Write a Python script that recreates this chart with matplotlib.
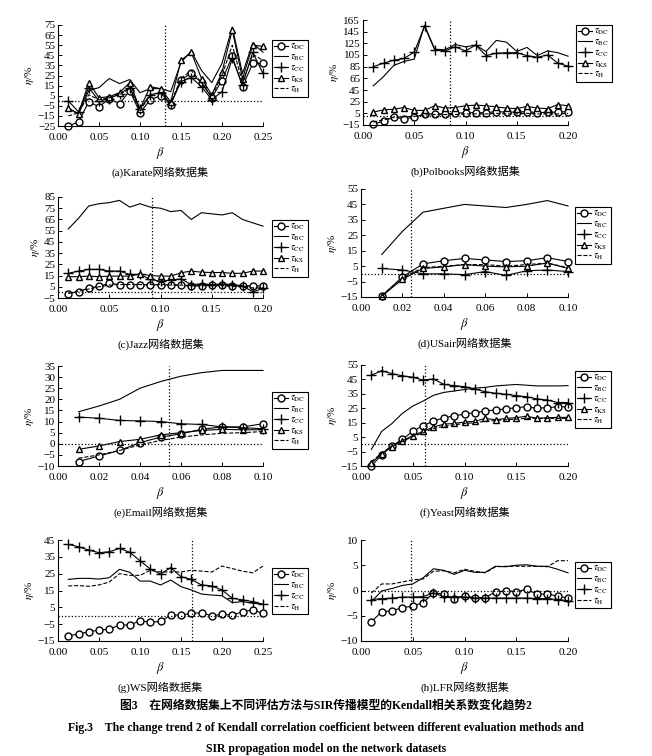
import numpy as np
import matplotlib
matplotlib.use("Agg")
import matplotlib.pyplot as plt

plt.rcParams['font.family'] = ['Liberation Serif', 'Noto Sans CJK SC', 'DejaVu Sans']
plt.rcParams['mathtext.fontset'] = 'stix'
plt.rcParams['axes.linewidth'] = 0.8

W, H = 652, 756

# ---- data ----
x_a = [0.0125 * i for i in range(1, 21)]
a_dc = [-25, -21, -1, -6, 2, -3, 10, -12, 1, 5, -4, 21, 27, 18, 3, 20, 44, 14, 37, 37]
a_bc = [-8, -13, 10, 13, 22, 17, 21, 8, 12, 12, 9, 38, 49, 30, 18, 37, 73, 27, 57, 48]
a_cc = [0, -11, 13, 0, 2, 7, 13, -8, 6, 8, -3, 19, 23, 14, 1, 9, 42, 16, 48, 27]
a_ks = [-7, -13, 18, 3, 4, 8, 18, -8, 14, 12, -1, 40, 48, 22, 6, 28, 70, 22, 55, 54]
a_h = [-15, -12, 6, 1, 3, 6, 12, -10, 6, 8, -2, 22, 30, 18, 4, 25, 55, 18, 46, 40]

x_b = [0.01 * i for i in range(1, 21)]
b_dc = [-14, -8, -2, -4, -2, 4, 4, 4, 5, 6, 6, 6, 8, 7, 7, 8, 6, 7, 7, 8]
b_bc = [52, 68, 87, 94, 98, 156, 115, 114, 123, 119, 122, 111, 130, 127, 111, 118, 104, 112, 109, 103]
b_cc = [85, 91, 96, 99, 110, 154, 114, 112, 119, 112, 122, 104, 108, 109, 109, 104, 101, 105, 91, 86]
b_ks = [7, 11, 12, 15, 10, 10, 18, 14, 15, 18, 19, 18, 16, 14, 13, 17, 14, 13, 20, 18]
b_h = [-10, -6, -2, -1, 0, 2, 3, 3, 3, 4, 4, 4, 5, 4, 4, 5, 4, 4, 4, 5]

x_c = [0.01 * i for i in range(1, 21)]
c_dc = [-1, 0.5, 4, 5.5, 8, 7, 7, 7, 6.5, 7, 6.5, 6.5, 5.5, 6, 6.5, 6.5, 6, 5.5, 6, 5.5]
c_bc = [56.5, 66, 77, 79, 80, 82, 76, 79, 76, 75, 72, 73, 65, 71, 70, 69, 71, 65, 62, 59]
c_cc = [17, 19, 20.5, 20.5, 19, 19, 16, 16, 11.5, 10, 11, 12, 7, 7.5, 7, 7.5, 7, 6, 0.5, 3.5]
c_ks = [14, 14, 14.5, 14, 14.5, 14.5, 14.5, 16.5, 15, 14.5, 14.5, 17.5, 19, 18, 17.7, 17.7, 17, 17, 19, 19]
c_h = [-1, 1, 3, 5, 6.5, 7, 7, 7, 7, 7, 6.5, 6.5, 6, 6, 6, 6, 5.5, 5, 4, 4]

x_d = [0.01 * i for i in range(1, 11)]
d_dc = [-14.5, -2, 6.5, 8.5, 10, 9, 8, 8.5, 10.5, 8]
d_bc = [12.5, 27.5, 40, 42.5, 45, 44, 43, 45, 47.5, 44]
d_cc = [3.5, 2.5, 0, 0, -0.5, 1.5, -1, 2, 2.5, 1.5]
d_ks = [-14.5, -3.5, 3.5, 4.5, 6, 5, 4.5, 5, 7, 3.5]
d_h = [-14, -2.5, 4, 5, 6, 6, 5, 6, 7, 4]

x_e = [0.01 * i for i in range(1, 11)]
e_dc = [-8, -5.5, -3, 0.5, 3, 4.5, 6.5, 7.6, 7.6, 9]
e_bc = [14.4, 17, 20, 25, 28, 30.4, 32, 33, 33, 33]
e_cc = [12, 11.5, 10.5, 10.3, 10, 9, 8.7, 7.6, 7.2, 6.8]
e_ks = [-2.5, -1, 1, 2, 4, 5, 6, 6.5, 6.3, 6.3]
e_h = [-6.5, -5, -3, -0.5, 1.5, 3, 4, 4.7, 5, 5.5]

x_f = [0.01 * i for i in range(1, 21)]
f_dc = [-15, -7.3, -1, 3.5, 9, 13, 16, 18.5, 19.7, 21, 22, 23, 24, 24.5, 25.5, 26, 25, 25.5, 26, 26]
f_bc = [-3.5, 9, 14.5, 21.5, 26.5, 30, 34, 36, 37, 38, 39, 39.5, 40.5, 41, 41.5, 41, 40.5, 40.5, 40.5, 40.7]
f_cc = [48, 51, 49, 47.5, 46.5, 44.6, 45.3, 41.6, 40.7, 40, 38.4, 36.5, 35.4, 34.7, 33.8, 33, 31.5, 30.7, 29, 29]
f_ks = [-13, -6.5, -1.5, 2.5, 6, 9, 12, 14, 14.5, 15.5, 16, 18, 17, 18, 18.5, 19.5, 18, 18.5, 18.7, 18.7]
f_h = [-12, -6, -1, 2, 5.5, 8, 11, 12.5, 13.5, 14.5, 15, 16, 16.5, 17, 17.5, 18, 18, 18, 18, 18]

x_g = [0.0125 * i for i in range(1, 21)]
g_dc = [-12, -10.8, -9.5, -8.5, -8, -5.5, -5.5, -3, -3.8, -3.4, 0.4, 0.4, 1.4, 1.8, 0, 0.8, 0.4, 2.4, 3.4, 1.4]
g_bc = [21.6, 22.2, 22.2, 21.8, 22.6, 27.6, 25.8, 20.6, 20.6, 18.3, 21.2, 17.3, 15.3, 12.9, 12.3, 11.9, 7.8, 8.4, 7.4, 6.8]
g_cc = [42.4, 41, 39, 37.5, 38, 40, 37.7, 32.7, 27.8, 24.8, 28.6, 23.2, 21.6, 18.3, 17.7, 15.3, 10.4, 9.4, 8.4, 6.8]
g_h = [17.7, 17.9, 17.5, 18.3, 20, 25, 24, 24, 27, 26, 26, 26, 27, 26.5, 26, 29.5, 28, 26.5, 25.5, 29.5]

x_h = [0.01 * i for i in range(1, 21)]
h_dc = [-6.2, -4.2, -4, -3.4, -3.1, -2.4, -0.5, -0.7, -1.7, -1.1, -1.4, -1.4, -0.3, -0.1, -0.2, 0.2, -0.7, -0.7, -1.1, -1.5]
h_bc = [-2.2, -0.1, 0.4, 1, 1.3, 2.5, 4.3, 4, 3.2, 4, 3.6, 3.6, 4.8, 4.7, 5, 5.1, 4.8, 4.8, 4.2, 3.5]
h_cc = [-1.8, -1.6, -1.5, -1.3, -1.3, -1.2, -0.5, -1.2, -1.2, -1.3, -1.5, -1.5, -1.5, -1.5, -1.5, -1.5, -1.6, -1.6, -1.8, -2.0]
h_h = [-0.5, 1.3, 1.3, 1.7, 2.1, 2.3, 3.8, 3.9, 3.5, 4.2, 3.8, 3.5, 4.7, 4.8, 4.8, 4.8, 4.8, 4.7, 5.9, 5.9]

panels = [
    dict(x=x_a, s=dict(DC=a_dc, BC=a_bc, CC=a_cc, KS=a_ks, H=a_h), ylim=(-25, 75), ystep=10,
         xmax=0.25, xstep=0.05, bc=0.13, cap="(a)Karate网络数据集",
         box=(58, 263, 25, 126), leg=(272, 40)),
    dict(x=x_b, s=dict(DC=b_dc, BC=b_bc, CC=b_cc, KS=b_ks, H=b_h), ylim=(-15, 165), ystep=20,
         xmax=0.20, xstep=0.05, bc=0.085, cap="(b)Polbooks网络数据集",
         box=(363, 568, 20, 125), leg=(576, 25)),
    dict(x=x_c, s=dict(DC=c_dc, BC=c_bc, CC=c_cc, KS=c_ks, H=c_h), ylim=(-5, 85), ystep=10,
         xmax=0.20, xstep=0.05, bc=0.092, cap="(c)Jazz网络数据集",
         box=(58, 263, 197, 298), leg=(272, 220)),
    dict(x=x_d, s=dict(DC=d_dc, BC=d_bc, CC=d_cc, KS=d_ks, H=d_h), ylim=(-15, 55), ystep=10,
         xmax=0.10, xstep=0.02, bc=0.024, cap="(d)USair网络数据集",
         box=(361, 568, 189, 297), leg=(575, 207)),
    dict(x=x_e, s=dict(DC=e_dc, BC=e_bc, CC=e_cc, KS=e_ks, H=e_h), ylim=(-10, 35), ystep=5,
         xmax=0.10, xstep=0.02, bc=0.054, cap="(e)Email网络数据集",
         box=(58, 263, 366, 466), leg=(272, 392)),
    dict(x=x_f, s=dict(DC=f_dc, BC=f_bc, CC=f_cc, KS=f_ks, H=f_h), ylim=(-15, 55), ystep=10,
         xmax=0.20, xstep=0.05, bc=0.062, cap="(f)Yeast网络数据集",
         box=(361, 568, 365, 466), leg=(575, 371)),
    dict(x=x_g, s=dict(DC=g_dc, BC=g_bc, CC=g_cc, H=g_h), ylim=(-15, 45), ystep=10,
         xmax=0.25, xstep=0.05, bc=0.163, cap="(g)WS网络数据集",
         box=(58, 263, 540, 641), leg=(272, 568)),
    dict(x=x_h, s=dict(DC=h_dc, BC=h_bc, CC=h_cc, H=h_h), ylim=(-10, 10), ystep=5,
         xmax=0.20, xstep=0.05, bc=0.048, cap="(h)LFR网络数据集",
         box=(361, 568, 540, 641), leg=(575, 562)),
]

styles = {
    "DC": dict(marker="o", ms=5, mfc="white", ls="-"),
    "BC": dict(marker=None, ls="-"),
    "CC": dict(marker="+", ms=7, mew=1.0, ls="-"),
    "KS": dict(marker="^", ms=5, mfc="white", ls="-"),
    "H": dict(marker=None, ls="--"),
}

fig = plt.figure(figsize=(W / 100, H / 100), dpi=100)

for p in panels:
    x0, x1, yt, yb = p["box"]
    ax = fig.add_axes([x0 / W, 1 - yb / H, (x1 - x0) / W, (yb - yt) / H])
    for key, vals in p["s"].items():
        ax.plot(p["x"], vals, color="black", lw=0.8, label=r"$\tau_{\rm %s}$" % key,
                clip_on=False, **styles[key])
    ax.axhline(0, color="black", ls=":", lw=0.9)
    ax.axvline(p["bc"], color="black", ls=":", lw=0.9)
    ax.set_xlim(0, p["xmax"])
    ax.set_ylim(*p["ylim"])
    xt = np.arange(0, p["xmax"] + 1e-9, p["xstep"])
    ax.set_xticks(xt)
    ax.set_xticklabels(["%.2f" % v for v in xt])
    ax.set_yticks(np.arange(p["ylim"][0], p["ylim"][1] + 1e-9, p["ystep"]))
    ax.tick_params(direction="in", length=3, width=0.7, labelsize=8)
    ax.tick_params(axis="x", pad=5)
    ax.tick_params(axis="y", pad=2)
    ax.spines["top"].set_visible(False)
    ax.spines["right"].set_visible(False)
    ax.set_xlabel(r"$\beta$", fontsize=9, labelpad=2)
    ax.set_ylabel(r"$\eta$/%", fontsize=8, labelpad=1)
    lx, ly = p["leg"]
    leg = ax.legend(loc="upper left", bbox_to_anchor=(lx / W, 1 - ly / H),
                    bbox_transform=fig.transFigure, fontsize=7, frameon=True,
                    fancybox=False, edgecolor="black", framealpha=1,
                    borderpad=0.2, labelspacing=0.02, handlelength=1.4,
                    handletextpad=0.3, borderaxespad=0)
    leg.get_frame().set_linewidth(0.8)
    cx = (x0 + x1) / 2
    fig.text(cx / W, 1 - (yb + 46) / H, p["cap"], ha="center", va="center", fontsize=8)

fig.text(0.5, 1 - 706 / H, "图3　在网络数据集上不同评估方法与SIR传播模型的Kendall相关系数变化趋势2",
         ha="center", va="center", fontsize=8.5, fontweight="bold")
fig.text(0.5, 1 - 728 / H, "Fig.3    The change trend 2 of Kendall correlation coefficient between different evaluation methods and",
         ha="center", va="center", fontsize=8.5, fontweight="bold")
fig.text(0.5, 1 - 749 / H, "SIR propagation model on the network datasets",
         ha="center", va="center", fontsize=8.5, fontweight="bold")

fig.savefig("out.png", dpi=100)
